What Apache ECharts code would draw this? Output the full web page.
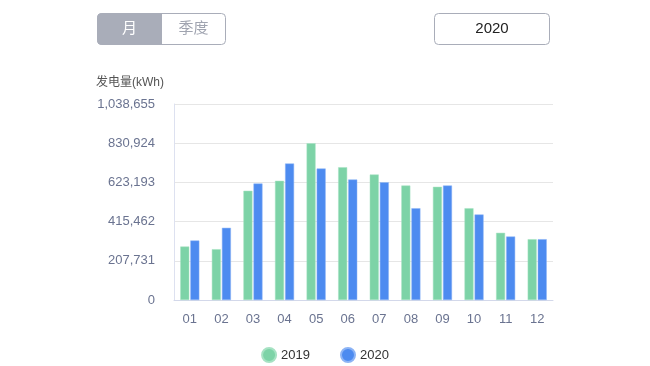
<!DOCTYPE html>
<html><head><meta charset="utf-8">
<script src="https://cdn.jsdelivr.net/npm/echarts@6/dist/echarts.min.js"></script>
<style>html,body{margin:0;padding:0;background:#fff}#c{width:650px;height:366px}</style>
</head><body><div id="c"></div>
<script>
const months = ['01','02','03','04','05','06','07','08','09','10','11','12'];
const s2019 = [283500, 269200, 578700, 631600, 830924, 703700, 665000, 606700, 599800, 486400, 356100, 322200];
const s2020 = [315300, 382600, 617300, 723300, 696800, 638500, 624200, 486400, 606700, 453100, 336500, 322200];
const seriesNames = ['2019', '2020'];
const yMax = 1038655, yInterval = 207731;

const chart = echarts.init(document.getElementById('c'), null, {renderer: 'canvas'});
const font = '"Helvetica Neue", "Liberation Sans", "Noto Sans CJK SC", sans-serif';
chart.setOption({
  animation: false,
  textStyle: {fontFamily: font},
  grid: {left: 174, right: 97, top: 104, bottom: 66},
  legend: {
    top: 342, left: 'center', itemGap: 30, itemWidth: 14, itemHeight: 14, icon: 'circle',
    textStyle: {color: '#333', fontSize: 13, fontFamily: font},
    data: seriesNames
  },
  xAxis: {
    type: 'category', data: months,
    axisLine: {lineStyle: {color: '#d3d8ea'}},
    axisTick: {lineStyle: {color: '#c6cde6'}, length: 6},
    axisLabel: {color: '#6a7390', fontSize: 13, margin: 13}
  },
  yAxis: {
    type: 'value', min: 0, max: yMax, interval: yInterval,
    name: '发电量(kWh)', nameLocation: 'end', nameGap: 15,
    nameTextStyle: {color: '#555', fontSize: 12, align: 'right', padding: [0, 10, 0, 0]},
    axisLine: {show: true, lineStyle: {color: '#dde1f0'}},
    axisTick: {show: false},
    axisLabel: {color: '#6a7390', fontSize: 13, margin: 19},
    splitLine: {lineStyle: {color: '#e6e6e6'}}
  },
  series: [
    {name: seriesNames[0], type: 'bar', data: s2019, barWidth: 9, barGap: '12%',
     itemStyle: {color: '#7dd3a7', borderColor: '#a6e2c3', borderWidth: 0.5}},
    {name: seriesNames[1], type: 'bar', data: s2020, barWidth: 9,
     itemStyle: {color: '#4d8bf0', borderColor: '#8db4f5', borderWidth: 0.5}}
  ],
  graphic: [
    {type: 'rect', shape: {x: 97.5, y: 13.5, width: 128, height: 31, r: 4}, style: {fill: '#fff', stroke: '#a9adb9', lineWidth: 1}},
    {type: 'rect', shape: {x: 97.5, y: 13.5, width: 64, height: 31, r: [4, 0, 0, 4]}, style: {fill: '#a9adb9', stroke: '#a9adb9', lineWidth: 1}},
    {type: 'text', x: 129.5, y: 29, style: {text: '月', fill: '#fff', font: '15px ' + font, textAlign: 'center', textVerticalAlign: 'middle'}},
    {type: 'text', x: 193.5, y: 29, style: {text: '季度', fill: '#a0a4b0', font: '15px ' + font, textAlign: 'center', textVerticalAlign: 'middle'}},
    {type: 'rect', shape: {x: 434.5, y: 13.5, width: 115, height: 31, r: 4}, style: {fill: '#fff', stroke: '#a9adb9', lineWidth: 1}},
    {type: 'text', x: 492, y: 29, style: {text: '2020', fill: '#222', font: '15px ' + font, textAlign: 'center', textVerticalAlign: 'middle'}}
  ]
});
</script></body></html>
